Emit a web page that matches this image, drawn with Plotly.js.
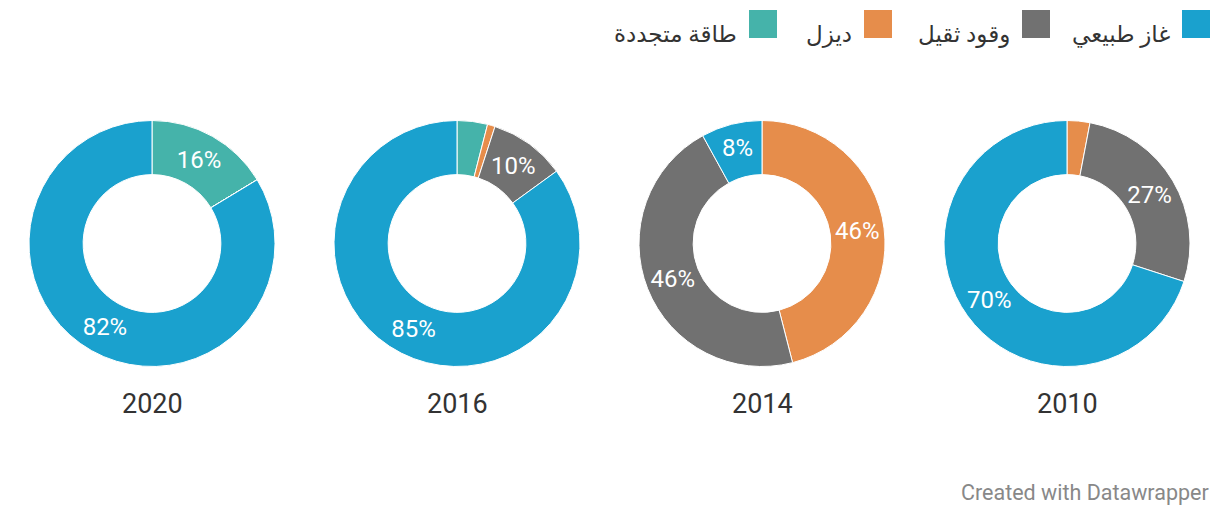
<!DOCTYPE html>
<html>
<head>
<meta charset="utf-8">
<script src="https://cdn.plot.ly/plotly-3.0.1.min.js"></script>
<style>
html,body{margin:0;padding:0;background:#fff;}
#chart{width:1220px;height:516px;}
</style>
</head>
<body>
<div id="chart"></div>
<script>
// ---- data ----
const years = ["2020", "2016", "2014", "2010"];
const categories = ["طاقة متجددة", "ديزل", "وقود ثقيل", "غاز طبيعي"];
const colors = ["#45b3aa", "#e68d4b", "#717171", "#1aa1ce"];
const values2020 = [16, 0, 0, 82];
const values2016 = [4, 1, 10, 85];
const values2014 = [0, 46, 46, 8];
const values2010 = [0, 3, 27, 70];
const legendOrder = ["غاز طبيعي", "وقود ثقيل", "ديزل", "طاقة متجددة"];

// ---- layout constants ----
const W = 1220, H = 516;
const centersX = [152, 457, 762, 1067];
const centerY = 243.5;
const R = 123;
const seriesByYear = [values2020, values2016, values2014, values2010];
const FONT = "Roboto, 'Noto Sans', 'DejaVu Sans', sans-serif";

const traces = seriesByYear.map((vals, i) => {
  const cx = centersX[i];
  const yb = H - centerY;
  return {
    type: "pie",
    labels: categories,
    values: vals,
    text: vals.map(v => v >= 5 ? v + "%" : ""),
    textinfo: "text",
    textposition: "inside",
    insidetextorientation: "horizontal",
    textfont: {family: FONT, size: 24, color: "#ffffff"},
    hole: 0.56,
    sort: false,
    direction: "clockwise",
    rotation: 0,
    marker: {colors: colors, line: {color: "#ffffff", width: 1}},
    domain: {x: [(cx - R) / W, (cx + R) / W], y: [(yb - R) / H, (yb + R) / H]},
    showlegend: false,
    hoverinfo: "label+value"
  };
});

const annotations = years.map((y, i) => ({
  text: y, x: centersX[i] / W, y: (H - 404) / H, xref: "paper", yref: "paper",
  xanchor: "center", yanchor: "middle", showarrow: false,
  font: {family: FONT, size: 27, color: "#333333"}
}));

// legend (RTL: square to the right of the label)
const legendRight = [1210, 1050, 892, 777];
const SQ = 28;
const shapes = [];
legendOrder.forEach((name, k) => {
  const idx = categories.indexOf(name);
  const r = legendRight[k];
  shapes.push({
    type: "rect", xref: "paper", yref: "paper",
    x0: (r - SQ) / W, x1: r / W, y0: (H - 38) / H, y1: (H - 10) / H,
    fillcolor: colors[idx], line: {width: 0}
  });
  annotations.push({
    text: name, x: (r - SQ - 10) / W, y: (H - 34) / H, xref: "paper", yref: "paper",
    xanchor: "right", yanchor: "middle", showarrow: false,
    font: {family: FONT, size: 23, color: "#333333"}
  });
});

annotations.push({
  text: "Created with Datawrapper", x: 1211 / W, y: (H - 492) / H,
  xref: "paper", yref: "paper", xanchor: "right", yanchor: "middle", showarrow: false,
  font: {family: FONT, size: 21.5, color: "#888888"}
});

const layout = {
  width: W, height: H,
  margin: {l: 0, r: 0, t: 0, b: 0},
  paper_bgcolor: "#ffffff",
  showlegend: false,
  annotations: annotations,
  shapes: shapes,
  font: {family: FONT}
};

Plotly.newPlot("chart", traces, layout, {displayModeBar: false, staticPlot: true});
</script>
</body>
</html>
